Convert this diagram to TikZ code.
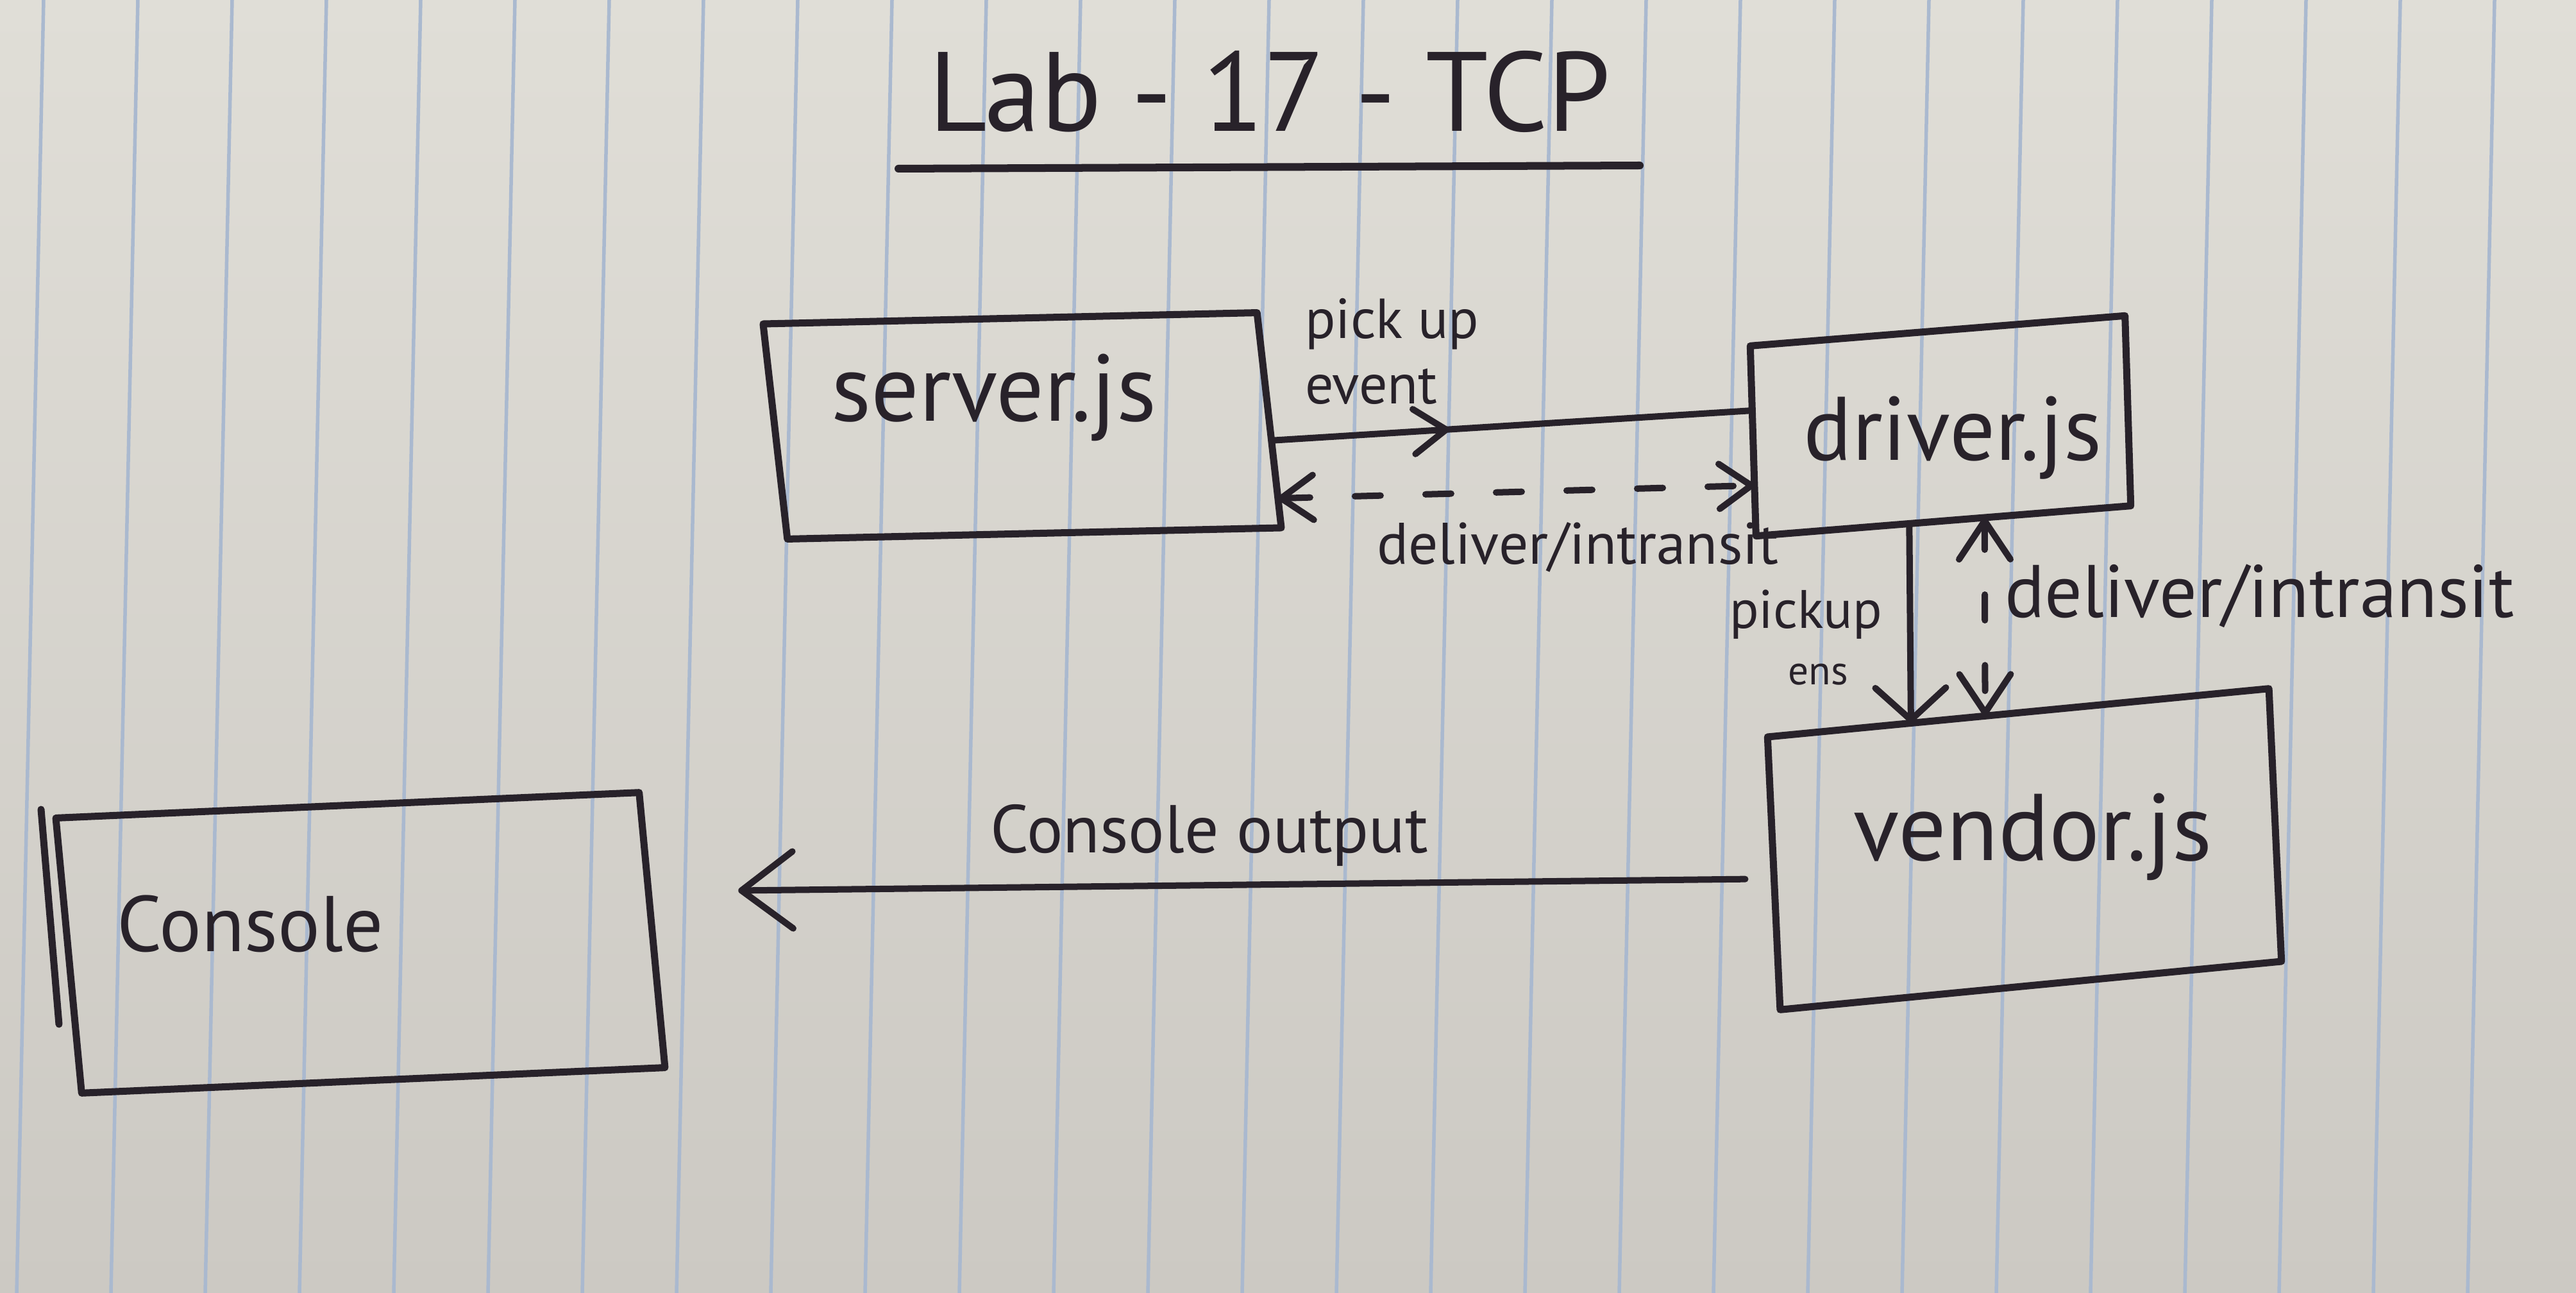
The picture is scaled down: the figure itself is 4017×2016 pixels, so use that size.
\documentclass[tikz,border=0pt]{standalone}
\usepackage{fontspec}
\setmainfont{PT Sans}
\usetikzlibrary{arrows.meta,calc,decorations.markings}
\definecolor{ink}{RGB}{40,34,42}
\definecolor{papertop}{RGB}{224,222,215}
\definecolor{paperbot}{RGB}{204,201,195}
\definecolor{paperblue}{RGB}{170,185,207}
\newcommand{\myfs}[2]{\fontsize{#1}{#2}\selectfont}
\tikzset{
  box/.style={draw=ink, line width=1.1mm, line join=round, inner sep=0pt, outer sep=0pt},
  txt/.style={text=ink, inner sep=0pt, outer sep=0pt},
  conn/.style={draw=ink, line width=1mm, line cap=round},
  dashconn/.style={conn, dash pattern=on 4mm off 7mm},
  barb/.tip={Straight Barb[length=5mm,width=7mm,round]},
  pbarb/.tip={Straight Barb[length=5mm,width=11mm,round]},
  vbarb/.tip={Straight Barb[length=6mm,width=8mm,round]},
  bigbarb/.tip={Straight Barb[length=8mm,width=12mm,round]},
  paperline/.style={draw=paperblue, line width=0.55mm}
}
\begin{document}
\begin{tikzpicture}[x=0.01cm,y=-0.01cm]
\useasboundingbox (0,0) rectangle (4017,2016);
% paper
\shade[top color=papertop, bottom color=paperbot] (0,0) rectangle (4017,2016);
\foreach \k in {-14,...,12} \draw[paperline] ({2126+147*\k},0) -- ({2084+147*\k},2016);

% title
\node[txt, anchor=base] (title) at (1980,205) {\myfs{50}{56}Lab - 17 - TCP};
\draw[ink, line width=1.2mm, line cap=round] (1401,263) -- (2557,258);

% boxes
\node[box, minimum width=7.7cm, minimum height=3.36cm, rotate=1.3, xslant=-0.09] (server) at (1594,664) {};
\node[box, minimum width=5.86cm, minimum height=2.96cm, rotate=4.6, xslant=0.05] (driver) at (3026,664) {};
\node[box, minimum width=7.85cm, minimum height=4.25cm, rotate=5.5, xslant=0.05] (vendor) at (3157,1324) {};
\node[box, minimum width=9.1cm, minimum height=4.3cm, rotate=2.5, xslant=-0.05] (console) at (562,1470) {};
\draw[ink, line width=1.1mm, line cap=round] (64,1262) -- (92,1597);

% box texts
\node[txt, anchor=base] (servertext) at (1550,657) {\myfs{42}{48}server.js};
\node[txt, anchor=base] (drivertext) at (3045,718) {\myfs{40}{46}driver.js};
\node[txt, anchor=base] (vendortext) at (3170,1341) {\myfs{42}{48}vendor.js};
\node[txt, anchor=base] (consoletext) at (390,1483) {\myfs{35}{40}Console};

% connectors
\draw[conn, postaction={decorate}, decoration={markings, mark=at position 0.37 with {\arrow{barb}}}]
  ($(server.north east)!0.594!(server.south east)$) -- ($(driver.north west)!0.34!(driver.south west)$);
\draw[dashconn, barb-barb]
  ($(server.north east)!0.863!(server.south east)$) -- ($(driver.north west)!0.734!(driver.south west)$);
\draw[conn, -pbarb]
  ($(driver.south west)!0.409!(driver.south east)$) -- ($(vendor.north west)!0.286!(vendor.north east)$);
\draw[dashconn, vbarb-vbarb]
  ($(driver.south west)!0.61!(driver.south east)$) -- ($(vendor.north west)!0.434!(vendor.north east)$);
\draw[conn, shorten <=4.5mm, shorten >=14mm, -bigbarb]
  ($(vendor.north west)!0.52!(vendor.south west)$) -- ($(console.north east)!0.36!(console.south east)$);

% connector labels
\node[txt, anchor=base west] (lblpick) at (2035,528) {\myfs{25}{29}\begin{tabular}[t]{@{}l@{}}pick up\\event\end{tabular}};
\node[txt, anchor=base] (lbldeliverA) at (2460,880) {\myfs{26}{30}deliver/intransit};
\node[txt, anchor=base west] (lbldeliverB) at (3126,963) {\myfs{33}{38}deliver/intransit};
\node[txt, anchor=base] (lblpickup) at (2816,980) {\myfs{24}{28}pickup};
\node[txt, anchor=base] (lblens) at (2835,1068) {\myfs{18}{22}ens};
\node[txt, anchor=base] (lblconsole) at (1886,1330) {\myfs{30}{34}Console output};
\end{tikzpicture}
\end{document}
